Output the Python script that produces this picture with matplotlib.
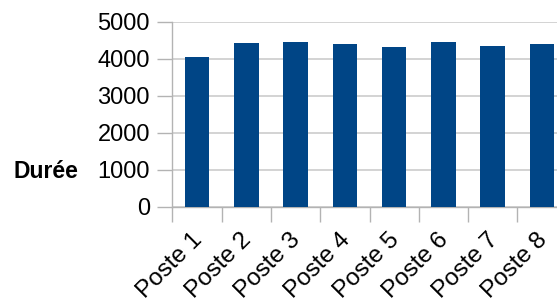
import matplotlib
matplotlib.use('Agg')
import matplotlib.pyplot as plt
import matplotlib.transforms as mtransforms
import numpy as np

plt.rcParams['font.family'] = ['Liberation Sans', 'DejaVu Sans']

categories = ['Poste 1', 'Poste 2', 'Poste 3', 'Poste 4',
              'Poste 5', 'Poste 6', 'Poste 7', 'Poste 8']
durations = [4053, 4433, 4460, 4406, 4324, 4460, 4351, 4406]
y_ticks = [0, 1000, 2000, 3000, 4000, 5000]

fig = plt.figure(figsize=(5.57, 3.03), dpi=100)
ax = fig.add_axes([172.3 / 557, 1 - 206.7 / 303, 394.4 / 557, 184.7 / 303])

x = np.arange(len(categories))
ax.bar(x, durations, width=0.5, color='#004586', zorder=3)

ax.set_xlim(-0.5, len(categories) - 0.5)
ax.set_ylim(0, 5000)
ax.set_yticks(y_ticks)
ax.set_yticklabels([str(v) for v in y_ticks], fontsize=17)

# category boundaries carry the tick marks, labels sit at the centres
ax.set_xticks(np.arange(len(categories) + 1) - 0.5)
ax.set_xticklabels([])
ax.set_xticks(x, minor=True)
ax.set_xticklabels(categories, minor=True, fontsize=17.5, rotation=45,
                   ha='right', va='top', rotation_mode='anchor')
ax.tick_params(axis='x', which='minor', length=0, pad=16)
ax.tick_params(axis='x', which='major', length=11, color='#b3b3b3', width=1)
ax.tick_params(axis='y', length=11, color='#b3b3b3', width=1, pad=5)

# nudge the slanted labels a little to the left
shift = mtransforms.ScaledTranslation(-6 / 100, 0, fig.dpi_scale_trans)
for lbl in ax.get_xticklabels(minor=True):
    lbl.set_transform(lbl.get_transform() + shift)

ax.grid(axis='y', color='#cccccc', linewidth=1.2, zorder=0)
for side in ['top', 'right']:
    ax.spines[side].set_visible(False)
for side in ['left', 'bottom']:
    ax.spines[side].set_color('#b3b3b3')
    ax.spines[side].set_linewidth(1)

fig.text(46 / 557, 1 - 172 / 303, 'Durée', ha='center', va='center',
         fontsize=16.5, fontweight='bold')

fig.savefig('out.png', dpi=100, facecolor='white')
